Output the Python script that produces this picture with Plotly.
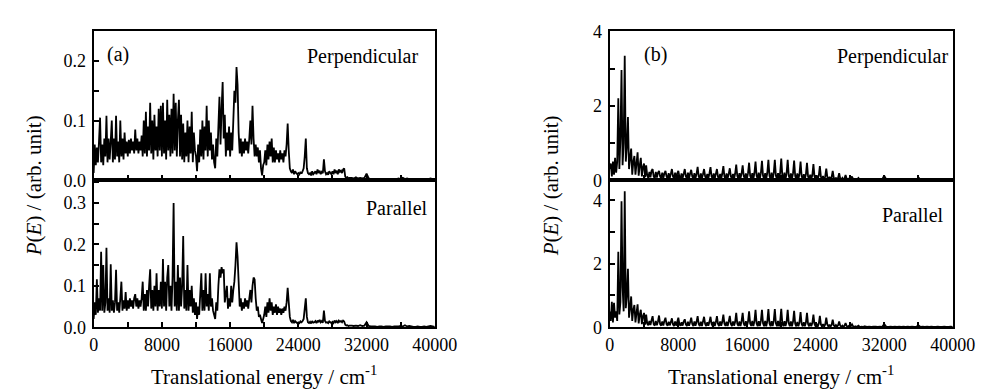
import plotly.graph_objects as go

# ---------------- data ----------------
# energy grid (cm^-1): 125 cm^-1 steps up to 30000, then 250 cm^-1 steps to 40000
energy_main = [125 * i for i in range(241)]
energy_tail = [30000 + 250 * i for i in range(1, 41)]
energy = energy_main + energy_tail

# (a) perpendicular, P(E)
a_perp_main = [
    0.012, 0.06, 0.025, 0.055, 0.03, 0.065, 0.105, 0.03,
    0.06, 0.025, 0.07, 0.04, 0.108, 0.03, 0.07, 0.035,
    0.065, 0.1, 0.03, 0.07, 0.035, 0.108, 0.04, 0.065,
    0.03, 0.1, 0.04, 0.07, 0.035, 0.08, 0.045, 0.065,
    0.04, 0.068, 0.045, 0.07, 0.05, 0.065, 0.045, 0.085,
    0.05, 0.07, 0.045, 0.065, 0.05, 0.075, 0.04, 0.1,
    0.045, 0.115, 0.04, 0.09, 0.05, 0.13, 0.045, 0.1,
    0.035, 0.11, 0.05, 0.09, 0.04, 0.12, 0.05, 0.125,
    0.04, 0.13, 0.045, 0.1, 0.035, 0.135, 0.05, 0.11,
    0.04, 0.12, 0.045, 0.145, 0.05, 0.13, 0.04, 0.1,
    0.135, 0.04, 0.11, 0.035, 0.095, 0.03, 0.08, 0.04,
    0.1, 0.03, 0.09, 0.045, 0.115, 0.03, 0.08, 0.05,
    0.04, 0.015, 0.06, 0.03, 0.085, 0.04, 0.1, 0.035,
    0.09, 0.05, 0.125, 0.04, 0.1, 0.05, 0.08, 0.035,
    0.06, 0.03, 0.02, 0.07, 0.04, 0.09, 0.14, 0.06,
    0.12, 0.165, 0.07, 0.11, 0.04, 0.08, 0.05, 0.09,
    0.04, 0.08, 0.05, 0.1, 0.15, 0.13, 0.19, 0.16,
    0.08, 0.045, 0.07, 0.04, 0.065, 0.045, 0.07, 0.05,
    0.065, 0.045, 0.07, 0.1, 0.06, 0.125, 0.07, 0.04,
    0.06, 0.04, 0.055, 0.03, 0.05, 0.02, 0.008, 0.025,
    0.03, 0.05, 0.025, 0.06, 0.035, 0.065, 0.04, 0.07,
    0.03, 0.055, 0.03, 0.05, 0.035, 0.045, 0.03, 0.05,
    0.035, 0.045, 0.03, 0.05, 0.04, 0.06, 0.095, 0.05,
    0.02, 0.015, 0.012, 0.018, 0.01, 0.015, 0.012, 0.01,
    0.012, 0.01, 0.014, 0.011, 0.015, 0.02, 0.04, 0.07,
    0.02, 0.012, 0.01, 0.012, 0.008, 0.015, 0.01, 0.012,
    0.015, 0.01, 0.018, 0.012, 0.016, 0.01, 0.014, 0.012,
    0.035, 0.015, 0.01, 0.012, 0.009, 0.015, 0.012, 0.01,
    0.015, 0.01, 0.018, 0.012, 0.016, 0.01, 0.018, 0.014,
    0.016, 0.012, 0.018, 0.02, 0.006, 0.004, 0.005, 0.003,
    0.004,
]
a_perp_tail = [
    0.004, 0.003, 0.005, 0.003, 0.004, 0.003, 0.004, 0.011, 0.003, 0.002,
    0.002, 0.002, 0.001, 0.002, 0.002, 0.001, 0.002, 0.002, 0.002, 0.001,
    0.002, 0.002, 0.003, 0.002, 0.004, 0.002, 0.003, 0.002, 0.002, 0.001,
    0.001, 0.001, 0.002, 0.001, 0.002, 0.001, 0.002, 0.003, 0.002, 0.001,
]

# (a) parallel, P(E)
a_para_main = [
    0.02, 0.06, 0.03, 0.116, 0.035, 0.07, 0.04, 0.182,
    0.04, 0.15, 0.035, 0.06, 0.192, 0.04, 0.07, 0.035,
    0.152, 0.04, 0.065, 0.035, 0.06, 0.139, 0.04, 0.06,
    0.035, 0.07, 0.11, 0.04, 0.065, 0.045, 0.085, 0.04,
    0.065, 0.045, 0.07, 0.05, 0.065, 0.045, 0.07, 0.08,
    0.05, 0.07, 0.045, 0.065, 0.05, 0.07, 0.11, 0.04,
    0.08, 0.04, 0.09, 0.05, 0.1, 0.14, 0.045, 0.09,
    0.04, 0.1, 0.05, 0.13, 0.04, 0.09, 0.05, 0.11,
    0.045, 0.165, 0.05, 0.11, 0.04, 0.12, 0.15, 0.05,
    0.1, 0.04, 0.12, 0.3, 0.05, 0.11, 0.04, 0.15,
    0.04, 0.12, 0.05, 0.1, 0.22, 0.045, 0.09, 0.04,
    0.15, 0.04, 0.09, 0.05, 0.1, 0.035, 0.07, 0.03,
    0.06, 0.02, 0.05, 0.03, 0.08, 0.13, 0.04, 0.09,
    0.04, 0.13, 0.05, 0.08, 0.04, 0.13, 0.05, 0.07,
    0.04, 0.03, 0.02, 0.06, 0.04, 0.1, 0.14, 0.12,
    0.145, 0.13, 0.14, 0.06, 0.08, 0.1, 0.045, 0.07,
    0.05, 0.1, 0.06, 0.09, 0.11, 0.15, 0.205, 0.17,
    0.11, 0.05, 0.07, 0.04, 0.06, 0.045, 0.07, 0.05,
    0.065, 0.045, 0.07, 0.09, 0.06, 0.1, 0.12, 0.115,
    0.07, 0.04, 0.05, 0.025, 0.03, 0.02, 0.01, 0.02,
    0.03, 0.05, 0.025, 0.06, 0.035, 0.07, 0.04, 0.06,
    0.03, 0.05, 0.035, 0.055, 0.03, 0.05, 0.035, 0.045,
    0.03, 0.045, 0.035, 0.05, 0.04, 0.06, 0.095, 0.06,
    0.025, 0.015, 0.012, 0.018, 0.01, 0.015, 0.012, 0.01,
    0.012, 0.01, 0.014, 0.012, 0.015, 0.02, 0.045, 0.07,
    0.025, 0.012, 0.01, 0.013, 0.009, 0.015, 0.011, 0.012,
    0.015, 0.01, 0.016, 0.012, 0.018, 0.012, 0.015, 0.011,
    0.04, 0.015, 0.011, 0.012, 0.01, 0.014, 0.012, 0.01,
    0.013, 0.01, 0.016, 0.012, 0.015, 0.01, 0.016, 0.013,
    0.015, 0.012, 0.016, 0.014, 0.006, 0.004, 0.005, 0.003,
    0.004,
]
a_para_tail = [
    0.004, 0.003, 0.004, 0.003, 0.005, 0.003, 0.004, 0.012, 0.003, 0.002,
    0.002, 0.002, 0.001, 0.002, 0.002, 0.001, 0.002, 0.002, 0.002, 0.001,
    0.002, 0.002, 0.002, 0.003, 0.002, 0.005, 0.002, 0.003, 0.002, 0.001,
    0.001, 0.002, 0.001, 0.001, 0.002, 0.001, 0.002, 0.003, 0.002, 0.001,
]

# (b) perpendicular, P(E)
b_perp_main = [
    0.3, 0.45, 0.1, 0.5, 0.15, 0.6, 0.2, 0.5,
    2.2, 0.3, 1.15, 2.96, 0.4, 1.0, 3.34, 0.5,
    0.9, 1.7, 0.3, 0.6, 0.85, 0.15, 0.5, 0.65,
    0.15, 0.45, 0.75, 0.12, 0.4, 0.6, 0.1, 0.35,
    0.45, 0.08,
    0.4, 0.12, 0.06, 0.22, 0.08, 0.25,
    0.3, 0.1, 0.05, 0.22, 0.07, 0.2,
    0.25, 0.1, 0.05, 0.2, 0.06, 0.18,
    0.25, 0.1, 0.04, 0.19, 0.06, 0.17,
    0.3, 0.1, 0.05, 0.2, 0.05, 0.18,
    0.25, 0.09, 0.04, 0.18, 0.06, 0.17,
    0.3, 0.1, 0.05, 0.2, 0.05, 0.18,
    0.28, 0.1, 0.04, 0.19, 0.05, 0.17,
    0.36, 0.1, 0.04, 0.18, 0.05, 0.16,
    0.3, 0.1, 0.04, 0.17, 0.05, 0.18,
    0.35, 0.1, 0.04, 0.18, 0.05, 0.17,
    0.3, 0.09, 0.04, 0.17, 0.04, 0.18,
    0.38, 0.1, 0.04, 0.18, 0.05, 0.17,
    0.32, 0.1, 0.04, 0.17, 0.04, 0.18,
    0.42, 0.11, 0.04, 0.19, 0.05, 0.18,
    0.4, 0.11, 0.04, 0.18, 0.04, 0.19,
    0.47, 0.12, 0.04, 0.19, 0.04, 0.2,
    0.5, 0.12, 0.03, 0.2, 0.04, 0.19,
    0.52, 0.12, 0.03, 0.19, 0.04, 0.2,
    0.55, 0.12, 0.03, 0.2, 0.03, 0.19,
    0.55, 0.12, 0.03, 0.19, 0.04, 0.2,
    0.58, 0.12, 0.03, 0.2, 0.03, 0.19,
    0.55, 0.12, 0.03, 0.18, 0.04, 0.19,
    0.53, 0.11, 0.03, 0.18, 0.03, 0.17,
    0.5, 0.11, 0.03, 0.16, 0.03, 0.16,
    0.47, 0.1, 0.03, 0.15, 0.03, 0.14,
    0.43, 0.1, 0.03, 0.13, 0.03, 0.12,
    0.38, 0.09, 0.02, 0.11, 0.02, 0.1,
    0.31, 0.08, 0.02, 0.09, 0.02, 0.08,
    0.25, 0.06, 0.02, 0.07, 0.02, 0.06,
    0.19, 0.05, 0.02, 0.06, 0.015, 0.05,
    0.14, 0.04, 0.015, 0.04, 0.01, 0.04,
    0.1, 0.03, 0.01, 0.03, 0.01, 0.03,
    0.06, 0.02, 0.01, 0.02, 0.01, 0.02,
    0.03, 0.015, 0.01,
]
b_perp_tail = [
    0.02, 0.01, 0.02, 0.015, 0.02, 0.01, 0.015, 0.12, 0.02, 0.01,
    0.015, 0.02, 0.01, 0.015, 0.01, 0.02, 0.01, 0.015, 0.01, 0.02,
    0.01, 0.015, 0.01, 0.07, 0.015, 0.01, 0.02, 0.01, 0.015, 0.01,
    0.01, 0.015, 0.01, 0.01, 0.015, 0.01, 0.01, 0.015, 0.01, 0.01,
]

# (b) parallel, P(E)
b_para_main = [
    0.5, 0.2, 0.8, 0.15, 0.77, 0.3, 0.5, 0.2,
    2.38, 0.4, 0.8, 3.97, 1.26, 0.5, 4.28, 0.6,
    1.0, 1.84, 0.3, 0.6, 0.97, 0.2, 0.55, 0.7,
    0.15, 0.45, 0.72, 0.12, 0.4, 0.55, 0.1, 0.35,
    0.45, 0.08,
    0.4, 0.11, 0.06, 0.2, 0.07, 0.22,
    0.35, 0.1, 0.05, 0.2, 0.06, 0.18,
    0.37, 0.1, 0.05, 0.18, 0.05, 0.2,
    0.3, 0.1, 0.05, 0.17, 0.06, 0.16,
    0.28, 0.09, 0.04, 0.18, 0.05, 0.17,
    0.3, 0.1, 0.05, 0.16, 0.05, 0.18,
    0.25, 0.09, 0.04, 0.17, 0.05, 0.16,
    0.3, 0.1, 0.04, 0.18, 0.05, 0.17,
    0.35, 0.1, 0.04, 0.17, 0.04, 0.18,
    0.33, 0.1, 0.04, 0.16, 0.05, 0.17,
    0.33, 0.1, 0.04, 0.17, 0.04, 0.16,
    0.35, 0.1, 0.04, 0.18, 0.05, 0.17,
    0.4, 0.11, 0.04, 0.17, 0.04, 0.18,
    0.36, 0.1, 0.04, 0.18, 0.05, 0.17,
    0.45, 0.11, 0.04, 0.18, 0.04, 0.19,
    0.45, 0.11, 0.04, 0.19, 0.04, 0.18,
    0.5, 0.12, 0.04, 0.2, 0.04, 0.19,
    0.55, 0.12, 0.03, 0.19, 0.04, 0.2,
    0.55, 0.12, 0.03, 0.2, 0.03, 0.19,
    0.57, 0.12, 0.03, 0.19, 0.04, 0.2,
    0.57, 0.12, 0.03, 0.2, 0.03, 0.19,
    0.58, 0.12, 0.03, 0.19, 0.04, 0.18,
    0.55, 0.12, 0.03, 0.18, 0.03, 0.18,
    0.52, 0.11, 0.03, 0.17, 0.03, 0.16,
    0.48, 0.11, 0.03, 0.16, 0.03, 0.15,
    0.45, 0.1, 0.03, 0.14, 0.03, 0.13,
    0.4, 0.1, 0.03, 0.12, 0.02, 0.11,
    0.36, 0.09, 0.02, 0.1, 0.02, 0.09,
    0.3, 0.08, 0.02, 0.08, 0.02, 0.07,
    0.24, 0.06, 0.02, 0.07, 0.02, 0.06,
    0.18, 0.05, 0.015, 0.05, 0.015, 0.05,
    0.13, 0.04, 0.015, 0.04, 0.01, 0.035,
    0.09, 0.03, 0.01, 0.03, 0.01, 0.025,
    0.05, 0.02, 0.01, 0.02, 0.01, 0.015,
    0.03, 0.015, 0.01,
]
b_para_tail = [
    0.02, 0.01, 0.015, 0.02, 0.01, 0.015, 0.01, 0.1, 0.015, 0.01,
    0.02, 0.01, 0.015, 0.01, 0.02, 0.01, 0.015, 0.01, 0.015, 0.01,
    0.02, 0.01, 0.015, 0.06, 0.01, 0.015, 0.01, 0.02, 0.01, 0.015,
    0.01, 0.01, 0.015, 0.01, 0.01, 0.015, 0.01, 0.01, 0.015, 0.01,
]

series = [
    (a_perp_main + a_perp_tail, "x", "y"),
    (a_para_main + a_para_tail, "x2", "y2"),
    (b_perp_main + b_perp_tail, "x3", "y3"),
    (b_para_main + b_para_tail, "x4", "y4"),
]

# ---------------- figure ----------------
W, H = 995, 389
FONT = "Liberation Serif, Times New Roman, serif"
fig = go.Figure()
for vals, xr, yr in series:
    n = min(len(vals), len(energy))
    fig.add_trace(go.Scatter(x=energy[:n], y=vals[:n], xaxis=xr, yaxis=yr,
                             mode="lines",
                             line=dict(color="black", width=1.8, simplify=False),
                             showlegend=False, hoverinfo="skip"))


def px_x(p):
    return p / W


def px_y(p):
    return 1 - p / H


tickfont = dict(family=FONT, size=18, color="black")


def xaxis(domain, anchor, labels):
    return dict(domain=domain, anchor=anchor, range=[0, 40000],
                showline=True, linecolor="black", linewidth=2, mirror=True,
                ticks="inside", ticklen=5, tickwidth=1.5, tickcolor="black",
                tick0=0, dtick=8000, tickformat="d",
                minor=dict(dtick=4000, ticks="inside", ticklen=5,
                           tickwidth=1.5, tickcolor="black"),
                showticklabels=labels, showgrid=False, zeroline=False,
                tickfont=tickfont)


def yaxis(domain, anchor, rng, dtick, fmt):
    return dict(domain=domain, anchor=anchor, range=rng,
                showline=True, linecolor="black", linewidth=2, mirror=True,
                ticks="inside", ticklen=5, tickwidth=1.5, tickcolor="black",
                tick0=0, dtick=dtick, tickformat=fmt,
                minor=dict(dtick=dtick / 2, ticks="inside", ticklen=5,
                           tickwidth=1.5, tickcolor="black"),
                showgrid=False, zeroline=False, tickfont=tickfont,
                ticklabelstandoff=2)


LX = [px_x(83), px_x(434)]
RX = [px_x(614), px_x(967)]
TY = [px_y(171), px_y(14)]
BY = [px_y(326), px_y(171)]

fig.update_layout(
    width=W, height=H, margin=dict(l=0, r=0, t=0, b=0),
    paper_bgcolor="white", plot_bgcolor="white",
    font=dict(family=FONT, size=18, color="black"),
    xaxis=xaxis(LX, "y", False),
    xaxis2=xaxis(LX, "y2", True),
    xaxis3=xaxis(RX, "y3", False),
    xaxis4=xaxis(RX, "y4", True),
    yaxis=yaxis(TY, "x", [0, 0.25], 0.1, ".1f"),
    yaxis2=yaxis(BY, "x2", [0, 0.355], 0.1, ".1f"),
    yaxis3=yaxis(TY, "x3", [0, 4], 2, "d"),
    yaxis4=yaxis(BY, "x4", [0, 4.63], 2, "d"),
)

ann = []


def add(text, x, y, xanchor="center", angle=0, size=20):
    ann.append(dict(text=text, x=px_x(x), y=px_y(y), xref="paper", yref="paper",
                    xanchor=xanchor, yanchor="middle", showarrow=False,
                    textangle=angle, font=dict(family=FONT, size=size, color="black")))


add("(a)", 108, 38)
add("Perpendicular", 419, 41, "right")
add("Parallel", 429, 200, "right")
add("(b)", 661, 39)
add("Perpendicular", 964, 41, "right")
add("Parallel", 960, 208, "right")
add("Translational energy / cm<sup>-1</sup>", 258, 377, size=21)
add("Translational energy / cm<sup>-1</sup>", 790, 377, size=21)
add("<i>P</i>(<i>E</i>) / (arb. unit)", 22, 177, angle=-90, size=21)
add("<i>P</i>(<i>E</i>) / (arb. unit)", 553, 177, angle=-90, size=21)
fig.update_layout(annotations=ann)

fig.write_html("out.html")
